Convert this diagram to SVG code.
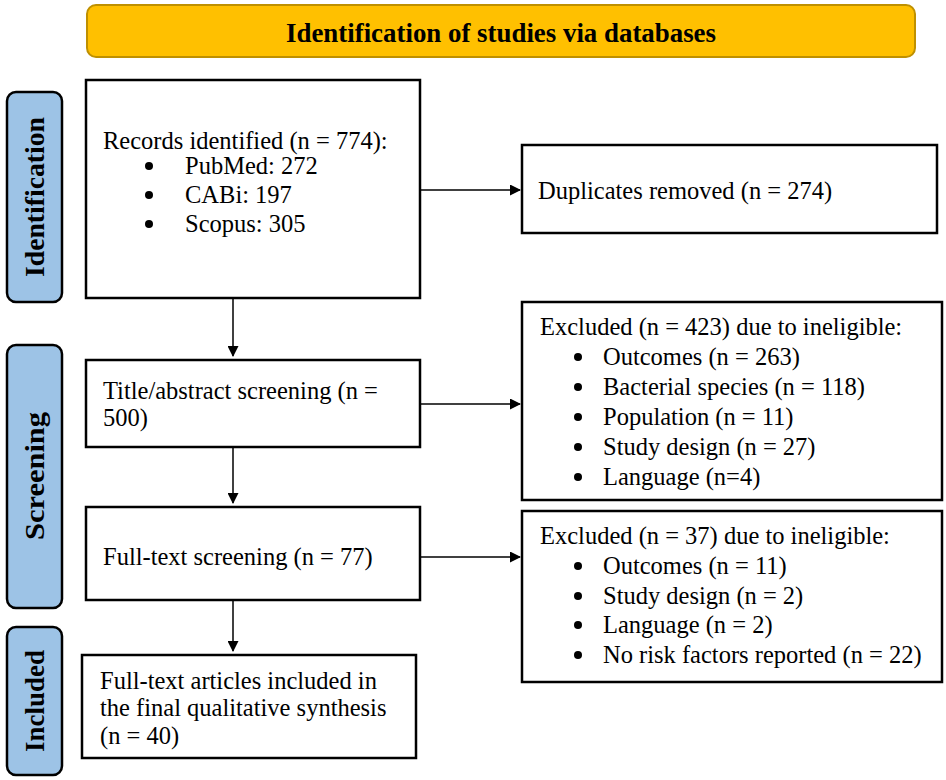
<svg xmlns="http://www.w3.org/2000/svg" width="946" height="780" viewBox="0 0 946 780">
<defs>
<marker id="ah" markerWidth="11" markerHeight="11" refX="10" refY="5.5" orient="auto" markerUnits="userSpaceOnUse">
<path d="M0,0 L11,5.5 L0,11 z" fill="#000"/>
</marker>
<style>
.box{fill:#fff;stroke:#000;stroke-width:2.5}
.side{fill:#9DC3E6;stroke:#000;stroke-width:2.5}
.t{font-family:"Liberation Serif","Times New Roman",serif;font-size:24.5px;fill:#000}
.st{font-family:"Liberation Serif","Times New Roman",serif;font-size:27px;font-weight:bold;fill:#000}
.c{stroke:#000;stroke-width:1.5;fill:none;marker-end:url(#ah)}
</style>
</defs>
<rect width="946" height="780" fill="#fff"/>
<g id="header">
<rect x="87" y="5" width="828" height="52" rx="9" fill="#FFC000" stroke="#BF9000" stroke-width="2"/>
<text x="501" y="42" text-anchor="middle" font-family="Liberation Serif, serif" font-weight="bold" font-size="28" textLength="430" lengthAdjust="spacingAndGlyphs">Identification of studies via databases</text>
</g>
<g id="side-identification">
<rect class="side" x="7" y="92" width="55" height="210" rx="9"/>
<text class="st" transform="translate(44,197) rotate(-90)" text-anchor="middle" textLength="160" lengthAdjust="spacingAndGlyphs">Identification</text>
</g>
<g id="side-screening">
<rect class="side" x="7" y="345" width="55" height="263" rx="9"/>
<text class="st" transform="translate(44,476) rotate(-90)" text-anchor="middle" textLength="128" lengthAdjust="spacingAndGlyphs">Screening</text>
</g>
<g id="side-included">
<rect class="side" x="7" y="627" width="55" height="148" rx="9"/>
<text class="st" transform="translate(44,701) rotate(-90)" text-anchor="middle">Included</text>
</g>
<g id="records">
<rect class="box" x="86" y="80" width="334" height="218"/>
<text class="t" x="103" y="149">Records identified (n = 774):</text>
<circle cx="149" cy="166" r="4"/><text class="t" x="185" y="174">PubMed: 272</text>
<circle cx="149" cy="195" r="4"/><text class="t" x="185" y="203">CABi: 197</text>
<circle cx="149" cy="224" r="4"/><text class="t" x="185" y="232">Scopus: 305</text>
</g>
<g id="duplicates">
<rect class="box" x="522" y="145" width="415" height="88"/>
<text class="t" x="538" y="199">Duplicates removed (n = 274)</text>
</g>
<g id="title-abstract">
<rect class="box" x="86" y="360" width="334" height="87"/>
<text class="t" x="103" y="399">Title/abstract screening (n =</text>
<text class="t" x="103" y="426">500)</text>
</g>
<g id="excluded-423">
<rect class="box" x="522" y="302" width="420" height="198"/>
<text class="t" x="540" y="335">Excluded (n = 423) due to ineligible:</text>
<circle cx="578" cy="357" r="4"/><text class="t" x="603" y="365">Outcomes (n = 263)</text>
<circle cx="578" cy="387" r="4"/><text class="t" x="603" y="395">Bacterial species (n = 118)</text>
<circle cx="578" cy="417" r="4"/><text class="t" x="603" y="425">Population (n = 11)</text>
<circle cx="578" cy="447" r="4"/><text class="t" x="603" y="455">Study design (n = 27)</text>
<circle cx="578" cy="477" r="4"/><text class="t" x="603" y="485">Language (n=4)</text>
</g>
<g id="full-text">
<rect class="box" x="86" y="507" width="334" height="93"/>
<text class="t" x="103" y="565">Full-text screening (n = 77)</text>
</g>
<g id="excluded-37">
<rect class="box" x="522" y="511" width="420" height="171"/>
<text class="t" x="540" y="544">Excluded (n = 37) due to ineligible:</text>
<circle cx="578" cy="566" r="4"/><text class="t" x="603" y="574">Outcomes (n = 11)</text>
<circle cx="578" cy="596" r="4"/><text class="t" x="603" y="604">Study design (n = 2)</text>
<circle cx="578" cy="625" r="4"/><text class="t" x="603" y="633">Language (n = 2)</text>
<circle cx="578" cy="655" r="4"/><text class="t" x="603" y="663">No risk factors reported (n = 22)</text>
</g>
<g id="included">
<rect class="box" x="82" y="655" width="334" height="103"/>
<text class="t" x="100" y="689">Full-text articles included in</text>
<text class="t" x="100" y="716">the final qualitative synthesis</text>
<text class="t" x="100" y="744">(n = 40)</text>
</g>
<g id="connectors">
<line class="c" x1="421" y1="190" x2="520" y2="190"/>
<line class="c" x1="233" y1="299" x2="233" y2="356"/>
<line class="c" x1="421" y1="404" x2="520" y2="404"/>
<line class="c" x1="233" y1="448" x2="233" y2="503"/>
<line class="c" x1="421" y1="557" x2="520" y2="557"/>
<line class="c" x1="233" y1="601" x2="233" y2="651"/>
</g>
</svg>
